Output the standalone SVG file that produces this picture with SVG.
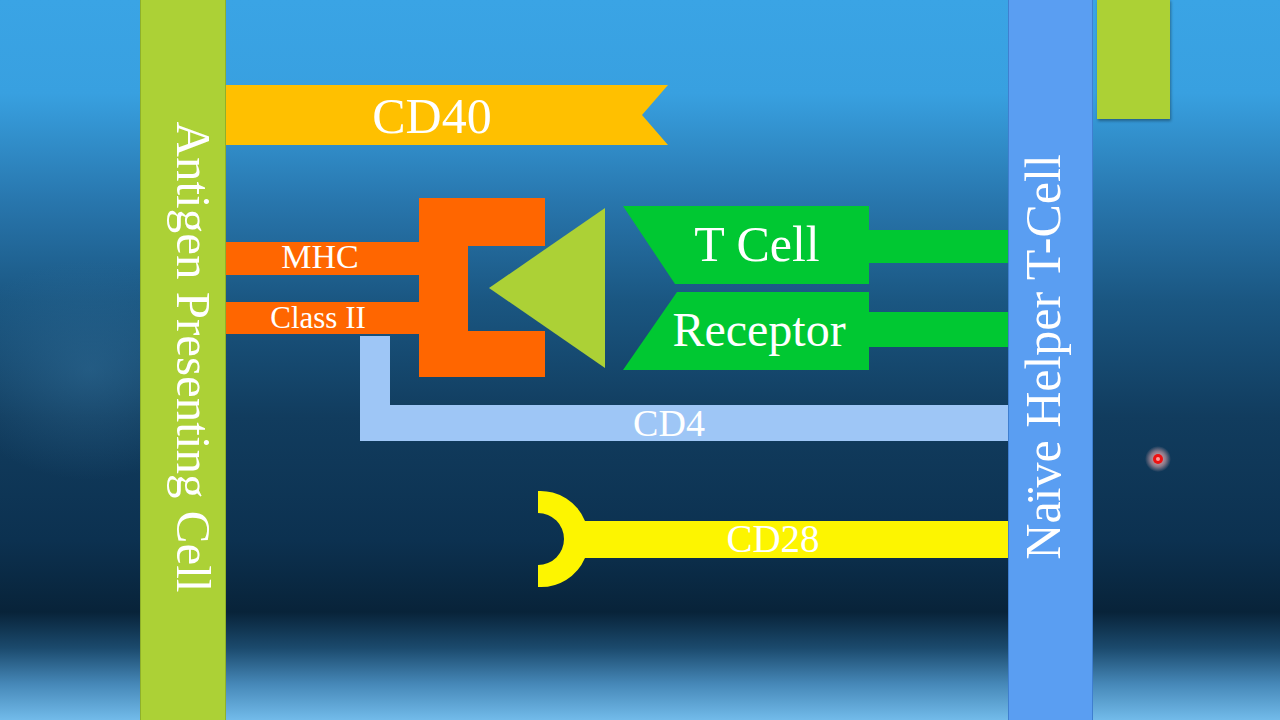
<svg xmlns="http://www.w3.org/2000/svg" width="1280" height="720" viewBox="0 0 1280 720">
  <defs>
    <linearGradient id="bg" x1="0" y1="0" x2="0" y2="1">
      <stop offset="0" stop-color="#3aa4e5"/>
      <stop offset="0.13" stop-color="#38a0e0"/>
      <stop offset="0.28" stop-color="#2876ad"/>
      <stop offset="0.42" stop-color="#1a5681"/>
      <stop offset="0.58" stop-color="#113c5e"/>
      <stop offset="0.75" stop-color="#0c3150"/>
      <stop offset="0.85" stop-color="#082339"/>
      <stop offset="0.9" stop-color="#1b4a6d"/>
      <stop offset="0.95" stop-color="#4688b8"/>
      <stop offset="1" stop-color="#72bbea"/>
    </linearGradient>
    <radialGradient id="glowL" cx="0.5" cy="0.5" r="0.5">
      <stop offset="0" stop-color="#3a7aa5" stop-opacity="0.4"/>
      <stop offset="1" stop-color="#3a7aa5" stop-opacity="0"/>
    </radialGradient>
    <radialGradient id="dotGlow" cx="0.5" cy="0.5" r="0.5">
      <stop offset="0" stop-color="#ffb8b8" stop-opacity="0.95"/>
      <stop offset="0.6" stop-color="#ffb8b8" stop-opacity="0.5"/>
      <stop offset="1" stop-color="#ffb8b8" stop-opacity="0"/>
    </radialGradient>
    <filter id="shadow" x="-20%" y="-20%" width="140%" height="140%">
      <feDropShadow dx="1" dy="2" stdDeviation="1.5" flood-color="#000" flood-opacity="0.35"/>
    </filter>
  </defs>
  <style>
    .lbl { font-family: "Liberation Serif", "Times New Roman", serif; fill: #ffffff; text-anchor: middle; }
    .apc { fill: #acd136; stroke: #8fb02a; stroke-width: 1; }
    .tcell { fill: #5a9ef2; stroke: #3f7fd0; stroke-width: 1; }
    .cd40 { fill: #ffc000; }
    .mhc { fill: #ff6600; }
    .tri { fill: #acd136; }
    .tcr { fill: #00c832; }
    .cd4 { fill: #9ec6f6; }
    .cd28 { fill: #fdf500; }
  </style>

  <rect x="0" y="0" width="1280" height="720" fill="url(#bg)"/>
  <ellipse cx="90" cy="370" rx="140" ry="110" fill="url(#glowL)"/>

  <g id="apc">
    <rect class="apc" x="140.5" y="-1" width="85" height="722"/>
    <text class="lbl" font-size="49" transform="translate(177,357) rotate(90)">Antigen Presenting Cell</text>
  </g>

  <g id="tcell">
    <rect class="tcell" x="1008.5" y="-1" width="84" height="722"/>
    <text class="lbl" font-size="50" transform="translate(1060,357) rotate(-90)">Naïve Helper T-Cell</text>
  </g>

  <g id="corner-block">
    <rect x="1097" y="-1" width="73" height="120" fill="#acd136" filter="url(#shadow)"/>
  </g>

  <g id="cd40">
    <polygon class="cd40" points="226,85 668,85 642,115 668,145 226,145"/>
    <text class="lbl" x="432" y="133" font-size="50">CD40</text>
  </g>

  <g id="cd4">
    <polygon class="cd4" points="360,336 390,336 390,405 1008,405 1008,441 360,441"/>
    <text class="lbl" x="669" y="436" font-size="38">CD4</text>
  </g>

  <g id="mhc">
    <rect class="mhc" x="226" y="242" width="200" height="33"/>
    <rect class="mhc" x="226" y="302" width="200" height="32"/>
    <polygon class="mhc" points="419,198 545,198 545,246 468,246 468,331 545,331 545,377 419,377"/>
    <text class="lbl" x="320" y="268" font-size="34">MHC</text>
    <text class="lbl" x="318" y="328" font-size="31">Class II</text>
  </g>

  <g id="antigen">
    <polygon class="tri" points="489,288 605,208 605,368"/>
  </g>

  <g id="tcr">
    <polygon class="tcr" points="623,206 869,206 869,230 1008,230 1008,263 869,263 869,284 675,284"/>
    <polygon class="tcr" points="677,292 869,292 869,312 1008,312 1008,347 869,347 869,370 623,370"/>
    <text class="lbl" x="757" y="261" font-size="50">T Cell</text>
    <text class="lbl" x="759" y="346" font-size="48">Receptor</text>
  </g>

  <g id="cd28">
    <path class="cd28" d="M538,491 A48,48 0 0 1 585,521 L1008,521 L1008,558 L585,558 A48,48 0 0 1 538,587 L538,565 A26,26 0 0 0 538,513 Z"/>
    <text class="lbl" x="773" y="552" font-size="39">CD28</text>
  </g>

  <g id="connectors"/>

  <g id="pointer">
    <circle cx="1158" cy="459" r="13" fill="url(#dotGlow)"/>
    <circle cx="1158" cy="459" r="5" fill="#ee1111"/>
    <circle cx="1158" cy="459" r="2" fill="#ff9a9a"/>
  </g>
</svg>
